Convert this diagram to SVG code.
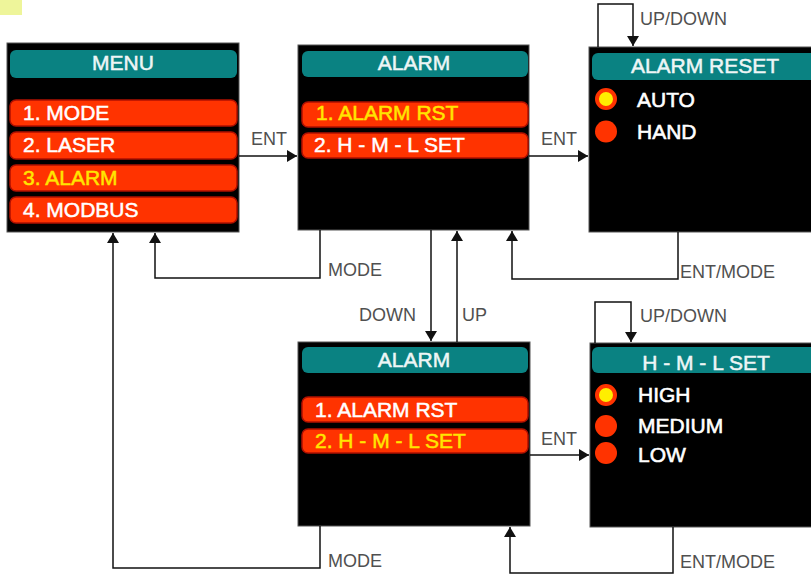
<svg xmlns="http://www.w3.org/2000/svg" width="811" height="576" viewBox="0 0 811 576">
<style>
.box{fill:#000;stroke:#555;stroke-width:1}
.bar{fill:#0a8282}
.item{fill:#ff3300;stroke:#b01000;stroke-width:1.5}
.ttl{font-family:"Liberation Sans",Arial,sans-serif;font-size:21px;fill:#eef6f6;stroke:#eef6f6;stroke-width:0.5;text-anchor:middle}
.it{font-family:"Liberation Sans",Arial,sans-serif;font-size:21px;fill:#fff;stroke:#fff;stroke-width:0.5}
.sel{fill:#ffe600;stroke:#ffe600}
.opt{font-family:"Liberation Sans",Arial,sans-serif;font-size:21px;fill:#fff;stroke:#fff;stroke-width:0.6}
.lbl{font-family:"Liberation Sans",Arial,sans-serif;font-size:18px;fill:#505050}
.ln{fill:none;stroke:#111;stroke-width:1.5}
.dot{fill:#ff3300}
.dotsel{fill:#ffee00;stroke:#ff3300;stroke-width:4}
</style>
<defs>
<marker id="ah" markerWidth="12" markerHeight="12" refX="10" refY="6" orient="auto" markerUnits="userSpaceOnUse">
<path d="M0,0 L10,6 L0,12 z" fill="#111"/>
</marker>
</defs>
<rect x="0" y="0" width="22" height="15" fill="#eef59a"/>

<g id="menu">
<rect class="box" x="7" y="43" width="232" height="189"/>
<rect class="bar" x="10" y="50" width="227" height="28" rx="6"/>
<text class="ttl" x="123" y="70">MENU</text>
<rect class="item" x="10" y="100" width="227" height="26" rx="6"/>
<text class="it" x="23" y="120">1. MODE</text>
<rect class="item" x="10" y="132" width="227" height="27" rx="6"/>
<text class="it" x="23" y="152">2. LASER</text>
<rect class="item" x="10" y="165" width="227" height="26" rx="6"/>
<text class="it sel" x="23" y="185">3. ALARM</text>
<rect class="item" x="10" y="197" width="227" height="26" rx="6"/>
<text class="it" x="23" y="217">4. MODBUS</text>
</g>

<g id="alarm-top">
<rect class="box" x="298" y="45" width="231" height="185"/>
<rect class="bar" x="302" y="51" width="226" height="26" rx="6"/>
<text class="ttl" x="414" y="70">ALARM</text>
<rect class="item" x="302" y="102" width="226" height="25" rx="6"/>
<text class="it sel" x="316" y="120">1. ALARM RST</text>
<rect class="item" x="302" y="133" width="226" height="25" rx="6"/>
<text class="it" x="314" y="152">2. H - M - L SET</text>
</g>

<g id="alarm-reset">
<rect class="box" x="589" y="47" width="240" height="185"/>
<rect class="bar" x="592" y="53" width="240" height="27" rx="6"/>
<text class="ttl" x="705" y="73">ALARM RESET</text>
<circle class="dotsel" cx="606" cy="99" r="9"/>
<text class="opt" x="637" y="107">AUTO</text>
<circle class="dot" cx="606" cy="131.5" r="11"/>
<text class="opt" x="637" y="139">HAND</text>
</g>

<g id="alarm-bottom">
<rect class="box" x="298" y="342" width="232" height="184"/>
<rect class="bar" x="302" y="347" width="226" height="26" rx="6"/>
<text class="ttl" x="414" y="367">ALARM</text>
<rect class="item" x="302" y="397" width="226" height="25" rx="6"/>
<text class="it" x="315" y="417">1. ALARM RST</text>
<rect class="item" x="302" y="429" width="226" height="24" rx="6"/>
<text class="it sel" x="315" y="448">2. H - M - L SET</text>
</g>

<g id="hml-set">
<rect class="box" x="590" y="343" width="240" height="184"/>
<rect class="bar" x="592" y="347" width="240" height="26" rx="6"/>
<text class="ttl" x="706" y="370">H - M - L SET</text>
<circle class="dotsel" cx="606" cy="395" r="9"/>
<text class="opt" x="638" y="402">HIGH</text>
<circle class="dot" cx="606" cy="426" r="11"/>
<text class="opt" x="638" y="433">MEDIUM</text>
<circle class="dot" cx="606" cy="453" r="11"/>
<text class="opt" x="638" y="462">LOW</text>
</g>

<g id="connectors">
<path class="ln" d="M239,156 H297" marker-end="url(#ah)"/>
<path class="ln" d="M529,156 H588" marker-end="url(#ah)"/>
<path class="ln" d="M530,455 H589" marker-end="url(#ah)"/>
<path class="ln" d="M320,230 V278 H155 V233" marker-end="url(#ah)"/>
<path class="ln" d="M320,526 V568 H113 V233" marker-end="url(#ah)"/>
<path class="ln" d="M431,230 V341" marker-end="url(#ah)"/>
<path class="ln" d="M457,342 V231" marker-end="url(#ah)"/>
<path class="ln" d="M678,232 V279 H512 V231" marker-end="url(#ah)"/>
<path class="ln" d="M673,527 V573 H510 V527" marker-end="url(#ah)"/>
<path class="ln" d="M598,47 V4 H633 V46" marker-end="url(#ah)"/>
<path class="ln" d="M595,343 V302 H631 V342" marker-end="url(#ah)"/>
<text class="lbl" x="251" y="145">ENT</text>
<text class="lbl" x="541" y="145">ENT</text>
<text class="lbl" x="541" y="445">ENT</text>
<text class="lbl" x="328" y="276">MODE</text>
<text class="lbl" x="328" y="567">MODE</text>
<text class="lbl" x="359" y="321">DOWN</text>
<text class="lbl" x="462" y="321">UP</text>
<text class="lbl" x="680" y="278">ENT/MODE</text>
<text class="lbl" x="680" y="568">ENT/MODE</text>
<text class="lbl" x="640" y="25">UP/DOWN</text>
<text class="lbl" x="640" y="322">UP/DOWN</text>
</g>
</svg>
